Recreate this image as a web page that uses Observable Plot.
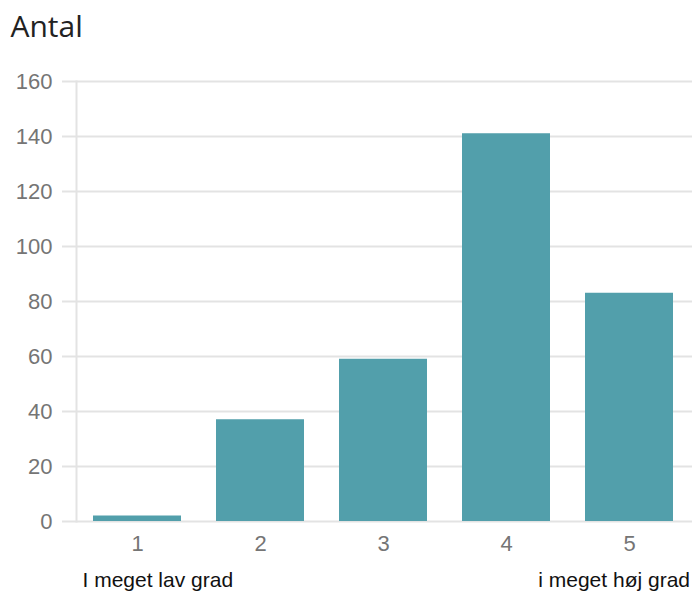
<!DOCTYPE html>
<html><head><meta charset="utf-8">
<script src="https://cdn.jsdelivr.net/npm/d3@7"></script>
<script src="https://cdn.jsdelivr.net/npm/@observablehq/plot@0.6"></script>
<style>
body{margin:0;background:#fff;}
</style>
</head><body>
<div id="chart"></div>
<script>
const categories = ["1", "2", "3", "4", "5"];
const counts = [2, 37, 59, 141, 83];
const yTicks = [0, 20, 40, 60, 80, 100, 120, 140, 160];
const title = "Antal";
const lowLabel = "I meget lav grad";
const highLabel = "i meget høj grad";

const data = categories.map((k, i) => ({k, v: counts[i]}));

const chart = Plot.plot({
  width: 696,
  height: 591,
  marginTop: 81,
  marginBottom: 70,
  marginLeft: 76,
  marginRight: 5.5,
  style: {fontFamily: "Liberation Sans, Arial, sans-serif", background: "#fff", color: "#757575"},
  x: {domain: categories, paddingInner: 0.285, paddingOuter: 0.14, label: null},
  y: {domain: [0, 160], label: null},
  marks: [
    Plot.ruleY(yTicks, {stroke: "#e3e3e3", strokeWidth: 2, insetLeft: -14, insetRight: -1.5}),
    Plot.frame({anchor: "left", stroke: "#e3e3e3", strokeWidth: 2}),
    Plot.barY(data, {x: "k", y: "v", fill: "#529fab"}),
    Plot.axisY(yTicks, {tickSize: 0, tickPadding: 24, fontSize: 22, fill: "#757575", label: null}),
    Plot.axisX({tickSize: 0, tickPadding: 14, fontSize: 22, fill: "#757575", label: null}),
    Plot.text([title], {frameAnchor: "top-left", textAnchor: "start", lineAnchor: "bottom", dx: -66, dy: -45, fontSize: 30, fill: "#222", fontFamily: "Open Sans, sans-serif"}),
    Plot.text([lowLabel], {frameAnchor: "bottom-left", textAnchor: "start", lineAnchor: "bottom", dx: 6, dy: 65, fontSize: 21, fill: "#111"}),
    Plot.text([highLabel], {frameAnchor: "bottom-right", textAnchor: "end", lineAnchor: "bottom", dx: -1, dy: 65, fontSize: 21, fill: "#111"})
  ]
});
document.getElementById("chart").appendChild(chart);
</script>
</body></html>
